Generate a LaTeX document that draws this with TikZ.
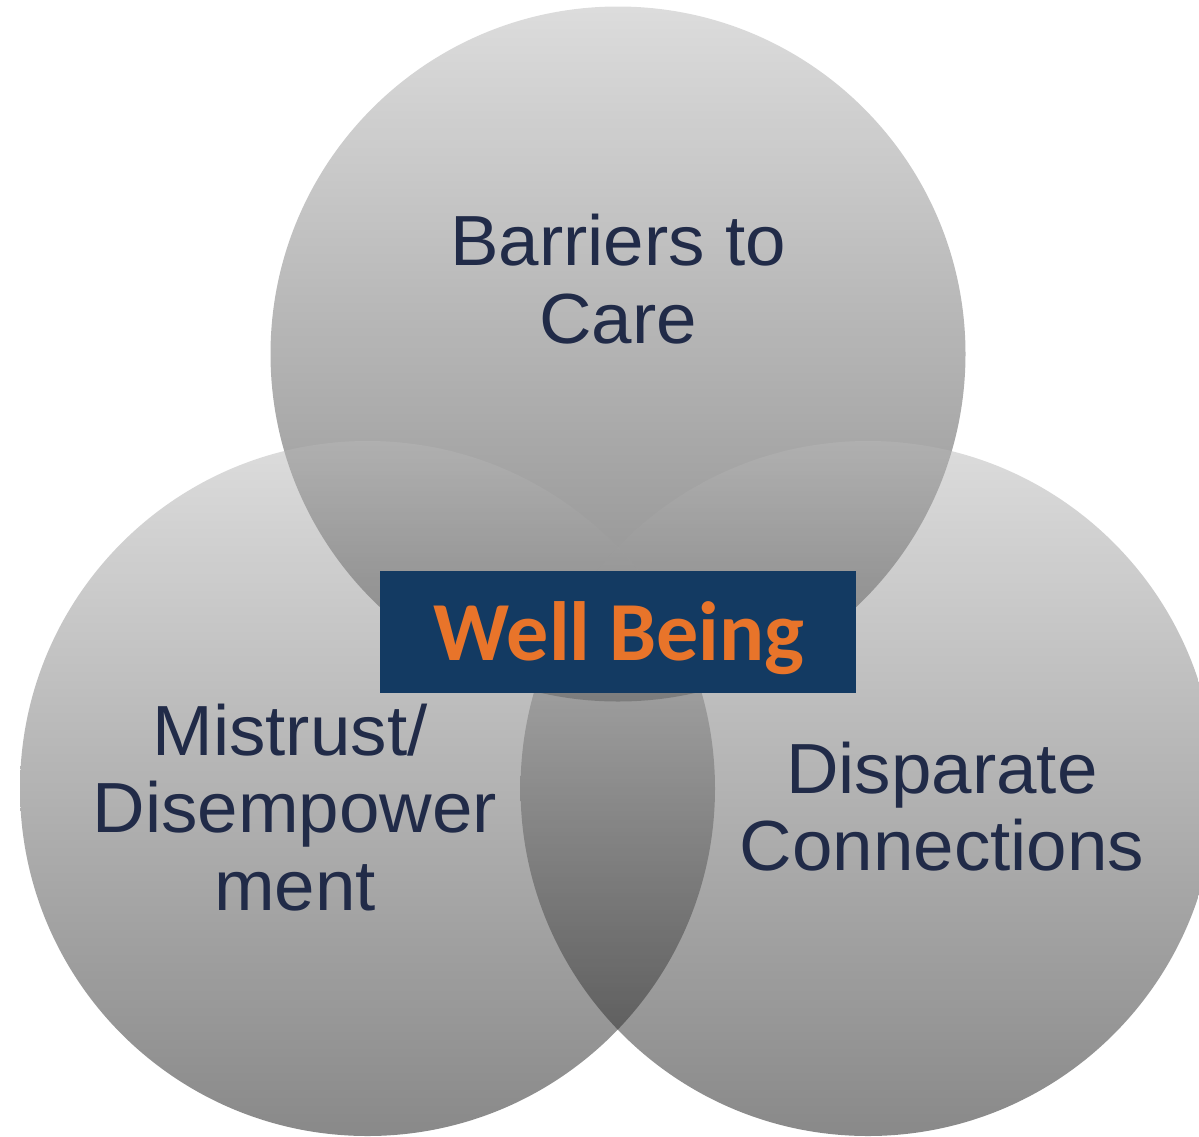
\documentclass[tikz,border=0pt]{standalone}
\usepackage{fontspec}
\setmainfont[FakeStretch=1.025]{Liberation Sans}
\newfontfamily\wbfont{Carlito}
\definecolor{ctop}{RGB}{184,184,184}
\definecolor{cbot}{RGB}{14,14,14}
\definecolor{labelc}{RGB}{33,43,72}
\definecolor{navy}{RGB}{19,58,98}
\definecolor{wborange}{RGB}{232,116,42}
\tikzset{
  venn/.style={circle, minimum size=695pt, inner sep=0pt, top color=ctop, bottom color=cbot, fill opacity=0.49, draw=none},
  lbl/.style={text=labelc, font=\fontsize{71}{78}\selectfont, align=center, inner sep=0pt, anchor=base},
}
\begin{document}
\begin{tikzpicture}[x=1pt,y=-1pt]
\useasboundingbox (0,0) rectangle (1199,1136);
\clip (0,0) rectangle (1199,1136);
\node[venn] (top) at (618,354) {};
\node[venn] (left) at (367.5,788.5) {};
\node[venn] (right) at (868,788.5) {};
\node[lbl] (t1) at (618,265) {Barriers to};
\node[lbl] (t2) at (618,343) {Care};
\node[lbl] (l1) at (290,755) {Mistrust/};
\node[lbl] (l2) at (295,832) {Disempower};
\node[lbl] (l3) at (295,910) {ment};
\node[lbl] (r1) at (942,793) {Disparate};
\node[lbl] (r2) at (942,870) {Connections};
\node[fill=navy, minimum width=476pt, minimum height=122pt, inner sep=0pt] (wb) at (618,632) {};
\node[text=wborange, font=\wbfont\bfseries\fontsize{84}{90}\selectfont, anchor=base, inner sep=0pt] (wbt) at (619,660) {Well Being};
\end{tikzpicture}
\end{document}
